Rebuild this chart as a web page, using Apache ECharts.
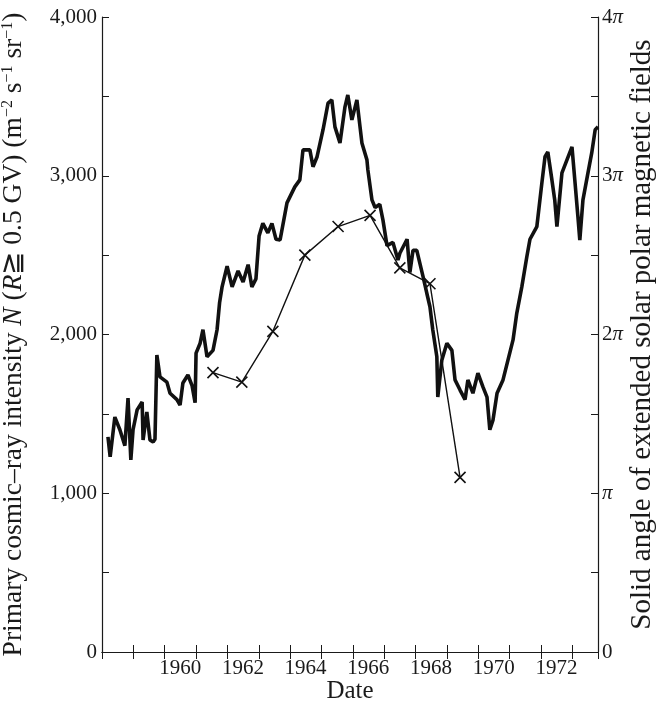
<!DOCTYPE html>
<html>
<head>
<meta charset="utf-8">
<script src="https://cdn.jsdelivr.net/npm/echarts@6/dist/echarts.min.js"></script>
<style>
  html, body { margin: 0; padding: 0; background: #fff; }
  #myChart { width: 661px; height: 702px; }
</style>
</head>
<body>
<div id="myChart"></div>
<script>
// cosmic-ray intensity (decimal year / m^-2 s^-1 sr^-1)
const rayYears = [
  1958.19, 1958.26, 1958.41, 1958.57, 1958.73, 1958.83, 1958.92, 1958.99, 1959.12, 1959.28,
  1959.31, 1959.43, 1959.53, 1959.63, 1959.69, 1959.75, 1959.85, 1960.07, 1960.17, 1960.39,
  1960.49, 1960.58, 1960.74, 1960.87, 1960.97, 1961.00, 1961.13, 1961.22, 1961.35, 1961.54,
  1961.67, 1961.75, 1961.83, 1961.99, 1962.15, 1962.34, 1962.50, 1962.66, 1962.78, 1962.91,
  1963.01, 1963.13, 1963.29, 1963.42, 1963.55, 1963.68, 1963.90, 1964.15, 1964.31, 1964.41,
  1964.63, 1964.73, 1964.86, 1965.05, 1965.21, 1965.33, 1965.43, 1965.59, 1965.75, 1965.84,
  1965.97, 1966.13, 1966.23, 1966.29, 1966.45, 1966.48, 1966.61, 1966.71, 1966.86, 1966.96,
  1967.02, 1967.09, 1967.28, 1967.44, 1967.50, 1967.73, 1967.82, 1967.92, 1968.04, 1968.24,
  1968.36, 1968.46, 1968.55, 1968.68, 1968.71, 1968.84, 1969.00, 1969.16, 1969.26, 1969.42,
  1969.58, 1969.67, 1969.83, 1969.99, 1970.15, 1970.28, 1970.37, 1970.47, 1970.60, 1970.79,
  1970.95, 1971.11, 1971.23, 1971.39, 1971.55, 1971.65, 1971.87, 1972.03, 1972.13, 1972.22,
  1972.35, 1972.44, 1972.51, 1972.67, 1972.83, 1972.99, 1973.08, 1973.18, 1973.24, 1973.34,
  1973.50, 1973.62, 1973.73, 1973.82
];
const rayValues = [
  1355, 1229, 1480, 1400, 1300, 1600, 1210, 1400, 1525, 1575,
  1335, 1512, 1335, 1323, 1340, 1871, 1733, 1700, 1630, 1590,
  1555, 1695, 1745, 1680, 1570, 1883, 1945, 2030, 1860, 1900,
  2030, 2200, 2300, 2430, 2300, 2400, 2330, 2440, 2300, 2350,
  2620, 2700, 2640, 2700, 2600, 2595, 2829, 2930, 2974, 3163,
  3163, 3057, 3120, 3290, 3458, 3478, 3308, 3207, 3434, 3509,
  3352, 3478, 3308, 3207, 3100, 3037, 2848, 2800, 2820, 2722,
  2722, 2560, 2580, 2470, 2512, 2600, 2390, 2530, 2530, 2365,
  2260, 2175, 2030, 1860, 1606, 1840, 1945, 1900, 1714, 1650,
  1590, 1714, 1630, 1757, 1670, 1606, 1400, 1460, 1630, 1714,
  1840, 1966, 2135, 2300, 2490, 2600, 2680, 2955, 3120, 3150,
  2974, 2848, 2680, 3018, 3100, 3182, 2974, 2741, 2595, 2848,
  3018, 3144, 3290, 3308
];

// solid angle of extended polar fields, in units of pi (right axis)
const angleYears = [1961.54, 1962.46, 1963.45, 1964.47, 1965.53, 1966.55, 1967.50, 1968.46, 1969.42];
const angleValues = [1.76, 1.70, 2.02, 2.50, 2.68, 2.75, 2.42, 2.32, 1.10];

const yearLabels = [1960, 1962, 1964, 1966, 1968, 1970, 1972];

const serif = '"Liberation Serif", "DejaVu Serif", serif';
const ink = '#1a1a1a';

let rayData = rayYears.map((y, i) => [y, rayValues[i]]);
let angleData = angleYears.map((y, i) => [y, angleValues[i]]);

let option = {
  animation: false,
  backgroundColor: '#fff',
  textStyle: { fontFamily: serif, color: ink },
  grid: { left: 102, right: 63, top: 17, bottom: 50, containLabel: false, outerBoundsMode: 'none' },
  xAxis: [
    {
      type: 'value',
      min: 1958, max: 1973.82, interval: 1,
      name: 'Date',
      nameLocation: 'middle',
      nameGap: 27,
      nameMoveOverlap: false,
      nameTextStyle: { fontFamily: serif, fontSize: 25, color: ink },
      axisLine: { lineStyle: { color: ink, width: 1.2 } },
      axisTick: { inside: true, length: 7, lineStyle: { color: ink } },
      splitLine: { show: false },
      axisLabel: {
        fontFamily: serif, fontSize: 21, color: ink, margin: 6,
        padding: [0, 0, 0, 31],     // labels sit half a year right of the tick
        showMaxLabel: false,
        formatter: v => yearLabels.indexOf(v) >= 0 ? String(v) : ''
      }
    },
    {
      type: 'value', position: 'top',
      min: 1958, max: 1973.82, interval: 1,
      axisLine: { lineStyle: { color: ink, width: 1.2 } },
      axisTick: { inside: true, length: 7, lineStyle: { color: ink } },
      axisLabel: { show: false },
      splitLine: { show: false }
    }
  ],
  yAxis: [
    {
      type: 'value', min: 0, max: 4000, interval: 500,
      name: '{t|Primary cosmic–ray intensity }{i|N}{t| (}{i|R}{t|≧ 0.5 GV) (m}{s|−2}{t| s}{s|−1}{t| sr}{s|−1}{t|)}',
      nameLocation: 'middle',
      nameGap: 74,
      nameMoveOverlap: false,
      nameTextStyle: {
        rich: {
          t: { fontFamily: serif, fontSize: 27.5, color: ink },
          i: { fontFamily: serif, fontSize: 27.5, fontStyle: 'italic', color: ink },
          s: { fontFamily: serif, fontSize: 16, color: ink, verticalAlign: 'top', padding: [0, 0, 11, 0] }
        }
      },
      axisLine: { show: true, lineStyle: { color: ink, width: 1.2 } },
      axisTick: { show: true, inside: true, length: 7, lineStyle: { color: ink } },
      splitLine: { show: false },
      axisLabel: {
        fontFamily: serif, fontSize: 21, color: ink, margin: 5,
        formatter: v => v % 1000 === 0 ? (v === 0 ? '0' : (v / 1000) + ',000') : ''
      }
    },
    {
      type: 'value', min: 0, max: 4, interval: 0.5, position: 'right',
      name: 'Solid angle of extended solar polar magnetic fields',
      nameLocation: 'middle',
      nameGap: 30,
      nameMoveOverlap: false,
      nameTextStyle: { fontFamily: serif, fontSize: 29, color: ink },
      axisLine: { show: true, lineStyle: { color: ink, width: 1.2 } },
      axisTick: { show: true, inside: true, length: 7, lineStyle: { color: ink } },
      splitLine: { show: false },
      axisLabel: {
        margin: 4,
        formatter: v => {
          if (v % 1 !== 0) return '';
          if (v === 0) return '{n|0}';
          return (v === 1 ? '' : '{n|' + v + '}') + '{p|π}';
        },
        rich: {
          n: { fontFamily: serif, fontSize: 21, color: ink },
          p: { fontFamily: serif, fontSize: 21, fontStyle: 'italic', color: ink }
        }
      }
    }
  ],
  series: [
    {
      name: 'cosmic ray',
      type: 'line',
      data: rayData,
      xAxisIndex: 0, yAxisIndex: 0,
      showSymbol: false,
      lineStyle: { color: '#111', width: 3.6 },
      z: 2
    },
    {
      name: 'solid angle',
      type: 'line',
      data: angleData,
      xAxisIndex: 0, yAxisIndex: 1,
      symbol: 'path://M0,0L10,10M10,0L0,10',
      symbolSize: 11,
      itemStyle: { color: 'rgba(0,0,0,0)', borderColor: '#111', borderWidth: 1.6 },
      lineStyle: { color: '#111', width: 1.4 },
      z: 3
    }
  ]
};

let myChart = echarts.init(document.getElementById('myChart'), null, { renderer: 'canvas' });
myChart.setOption(option);
</script>
</body>
</html>
